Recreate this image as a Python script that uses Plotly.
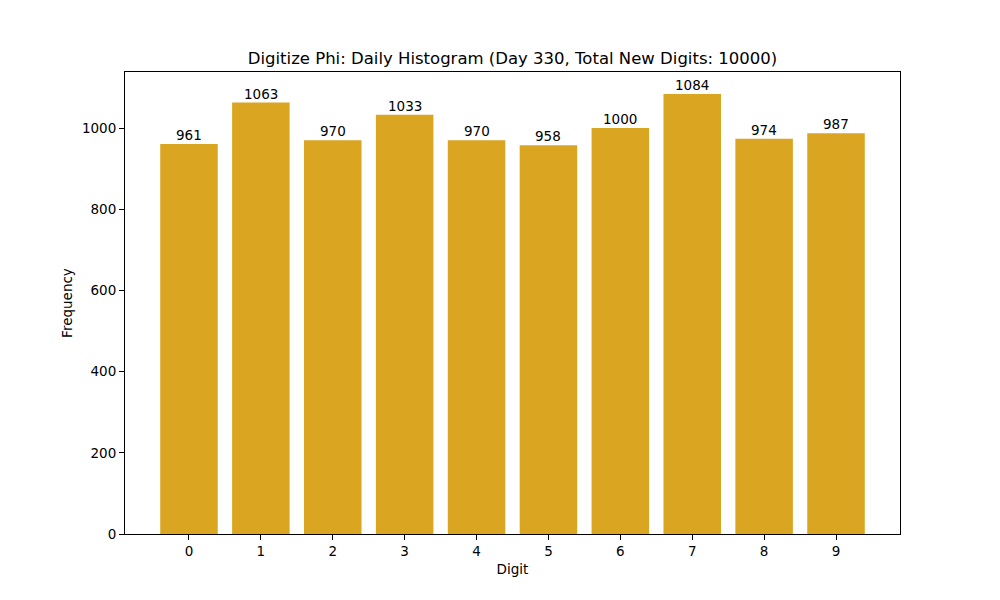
import plotly.graph_objects as go

digits = ["0", "1", "2", "3", "4", "5", "6", "7", "8", "9"]
counts = [961, 1063, 970, 1033, 970, 958, 1000, 1084, 974, 987]
title_text = "Digitize Phi: Daily Histogram (Day 330, Total New Digits: 10000)"

fig = go.Figure()

fig.add_trace(
    go.Bar(
        x=list(range(len(digits))),
        y=counts,
        width=0.8,
        marker_color="#DAA520",
        marker_line_width=0,
    )
)

# value labels sitting on top of each bar
for i, c in enumerate(counts):
    fig.add_annotation(
        x=i, y=c, text=str(c),
        showarrow=False, xanchor="center", yanchor="bottom",
        yshift=-1,
        font=dict(family="DejaVu Sans", size=13.5, color="black"),
    )

fig.update_layout(
    width=1000,
    height=600,
    margin=dict(l=117, r=108, t=64, b=74),
    paper_bgcolor="white",
    plot_bgcolor="white",
    font=dict(family="DejaVu Sans", size=13.5, color="black"),
    title=dict(
        text=title_text,
        x=0.5045,
        xanchor="center",
        y=1 - 50 / 600,
        yanchor="middle",
        font=dict(size=16.5, color="black"),
    ),
    showlegend=False,
)

fig.update_xaxes(
    range=[-0.89, 9.89],
    tickmode="array",
    tickvals=list(range(len(digits))),
    ticktext=digits,
    ticks="outside",
    ticklen=5,
    tickcolor="black",
    showline=True,
    linecolor="black",
    linewidth=1,
    mirror=True,
    showgrid=False,
    zeroline=False,
    title=dict(text="Digit", standoff=6, font=dict(size=13.5)),
)

fig.update_yaxes(
    range=[0, 1084 * 1.05],
    tickvals=[0, 200, 400, 600, 800, 1000],
    ticks="outside",
    ticklen=5,
    tickcolor="black",
    showline=True,
    linecolor="black",
    linewidth=1,
    mirror=True,
    showgrid=False,
    zeroline=False,
    title=dict(text="Frequency", standoff=6, font=dict(size=13.5)),
)

fig.write_html("out.html")
